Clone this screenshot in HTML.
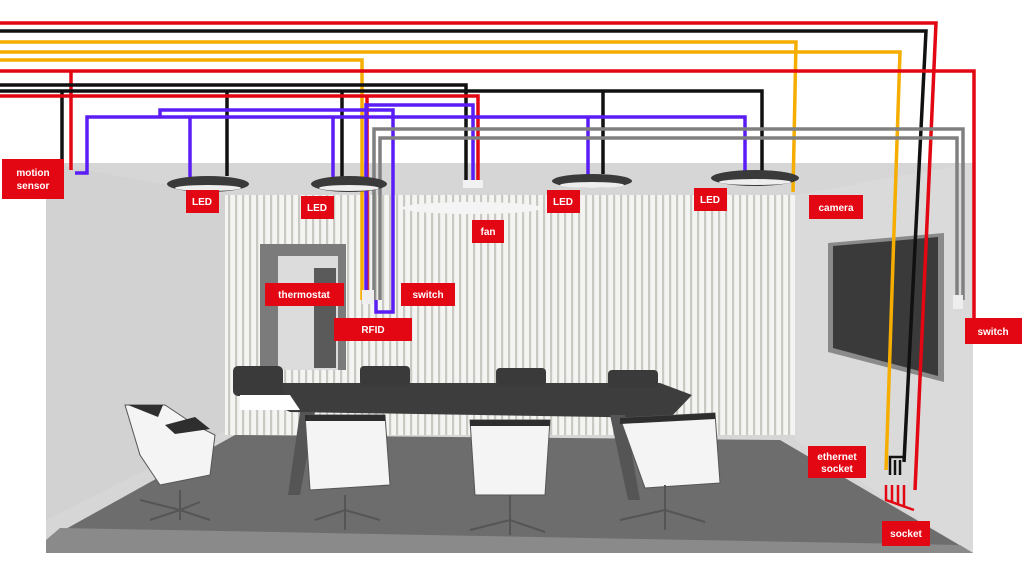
<!DOCTYPE html>
<html><head><style>
body{margin:0;background:#fff}
svg{display:block}
.l{fill:#e30613}
.t{fill:#fff;font-family:"Liberation Sans",sans-serif;font-weight:bold;font-size:10px;text-anchor:middle}
.w{fill:none;stroke-width:3.5;stroke-linejoin:miter}
</style></head><body>
<svg width="1024" height="576" viewBox="0 0 1024 576" xmlns="http://www.w3.org/2000/svg">
<defs>
<pattern id="sl" width="7" height="10" patternUnits="userSpaceOnUse">
<rect width="7" height="10" fill="#f4f4f2"/><rect x="4" width="2.2" height="10" fill="#c9c8c2"/>
</pattern>
</defs>
<rect x="46" y="163" width="927" height="390" fill="#d6d6d6"/>
<polygon points="46,163 225,195 225,430 46,520" fill="#d2d2d2"/>
<polygon points="973,163 795,195 795,440 973,553" fill="#dadada"/>
<rect x="225" y="195" width="570" height="240" fill="url(#sl)"/>
<rect x="260" y="244" width="86" height="126" fill="#7b7b7b"/>
<rect x="278" y="256" width="60" height="114" fill="#dcdcdc"/>
<rect x="314" y="268" width="22" height="100" fill="#5a5a5a"/>
<polygon points="46,540 235,435 780,440 973,553 46,553" fill="#6d6d6d"/>
<polygon points="46,540 60,528 960,545 973,553 46,553" fill="#8a8a8a"/>
<polygon points="828,243 944,233 944,382 828,352" fill="#8a8a8a"/>
<polygon points="833,246 938,237 938,376 833,348" fill="#3a3a3a"/>
<polygon points="280,383 660,383 692,395 670,418 290,412 262,398" fill="#3d3d3d"/>
<polygon points="300,412 315,412 300,495 288,495" fill="#555"/>
<polygon points="610,415 625,415 640,500 628,500" fill="#555"/>
<g fill="#3a3a3a">
<rect x="233" y="366" width="50" height="30" rx="5"/><rect x="360" y="366" width="50" height="20" rx="4"/>
<rect x="496" y="368" width="50" height="18" rx="4"/><rect x="608" y="370" width="50" height="18" rx="4"/>
</g>
<path d="M240 395 h50 l10 15 h-60z" fill="#fff"/>
<g fill="#f4f4f4" stroke="#555" stroke-width="1">
<path d="M125 405 l40 0 30 20 20 10 -5 40 -50 10 -20 -30z"/>
<path d="M305 415 h80 l5 70 -80 5z"/>
<path d="M470 420 h80 l-5 75 -70 0z"/>
<path d="M620 418 l95 -5 5 70 -75 5z"/>
</g>
<g fill="#2e2e2e">
<path d="M128 405 l35 0 -5 12 z"/><path d="M165 425 l30 -8 15 12 -35 5z"/>
<path d="M305 415 h80 v6 h-80z"/><path d="M470 420 h80 v6 h-80z"/><path d="M620 418 l95 -5 v6 l-95 5z"/>
</g>
<g stroke="#555" stroke-width="2" fill="none">
<path d="M140 500 l40 10 l20 -8 M180 490 v30 M150 520 l30 -10 l30 10"/>
<path d="M315 520 l30 -10 l35 10 M345 495 v35"/>
<path d="M470 530 l40 -10 l35 12 M510 495 v40"/>
<path d="M620 520 l45 -10 l40 12 M665 485 v45"/>
</g>
<g class="w">
<path stroke="#e30613" d="M0 23 H936 L915 490"/>
<path stroke="#111" d="M0 31 H926 L904 462"/>
<path stroke="#f5ad00" d="M0 42 H796 L793 192"/>
<path stroke="#f5ad00" d="M0 52 H900 L886 470"/>
<path stroke="#f5ad00" d="M0 60 H362 V300"/>
<path stroke="#e30613" d="M0 71 H974 V320 L966 320"/>
<path stroke="#e30613" d="M71 71 V170"/>
<path stroke="#111" d="M0 85 H466 V180"/>
<path stroke="#111" d="M0 91 H762 V172 M62 91 V183 M227 91 V176 M342 91 V178 M603 91 V174"/>
<path stroke="#e30613" d="M0 96 H478 V180 M367 96 V300"/>
<path stroke="#5b1df5" d="M75 173 H87 V117 H745 V172 M190 117 V178 M333 117 V178 M588 117 V175"/>
<path stroke="#5b1df5" d="M160 117 V110 H393 V312 H376 V300"/>
<path stroke="#5b1df5" d="M366 300 V105 H473 V180"/>
<path stroke="#808080" d="M374 300 V129 H963 V300"/>
<path stroke="#808080" d="M380 300 V138 H957 V300"/>
<path stroke="#111" stroke-width="2.5" d="M890 475 V457 H906 M895 475 V460 M900 475 V460"/>
<path stroke="#e30613" stroke-width="2.5" d="M886 485 V500 L914 510 M892 485 V502 M898 485 V504 M904 485 V506"/>
</g>
<g fill="#3a3a3a">
<ellipse cx="208" cy="184" rx="41" ry="8"/><ellipse cx="349" cy="184" rx="38" ry="8"/>
<ellipse cx="592" cy="181" rx="40" ry="7"/><ellipse cx="755" cy="178" rx="44" ry="8"/>
</g>
<g fill="#eee"><ellipse cx="208" cy="188" rx="33" ry="3"/><ellipse cx="349" cy="188" rx="30" ry="3"/>
<ellipse cx="592" cy="185" rx="32" ry="3"/><ellipse cx="755" cy="182" rx="36" ry="3"/></g>
<rect x="463" y="180" width="20" height="8" fill="#f2f2f2"/>
<ellipse cx="472" cy="208" rx="70" ry="6" fill="#f4f4f4"/>
<rect x="362" y="290" width="12" height="14" fill="#eee"/><rect x="953" y="295" width="10" height="14" fill="#eee"/>
<rect class="l" x="2" y="159" width="62" height="40"/><text class="t" x="33" y="176">motion</text><text class="t" x="33" y="189">sensor</text>
<rect class="l" x="186" y="190" width="33" height="23"/><text class="t" x="202" y="205">LED</text>
<rect class="l" x="301" y="196" width="33" height="23"/><text class="t" x="317" y="211">LED</text>
<rect class="l" x="472" y="220" width="32" height="23"/><text class="t" x="488" y="235">fan</text>
<rect class="l" x="547" y="190" width="33" height="23"/><text class="t" x="563" y="205">LED</text>
<rect class="l" x="694" y="188" width="33" height="23"/><text class="t" x="710" y="203">LED</text>
<rect class="l" x="809" y="195" width="54" height="24"/><text class="t" x="836" y="211">camera</text>
<rect class="l" x="265" y="283" width="79" height="23"/><text class="t" x="304" y="298">thermostat</text>
<rect class="l" x="401" y="283" width="54" height="23"/><text class="t" x="428" y="298">switch</text>
<rect class="l" x="334" y="318" width="78" height="23"/><text class="t" x="373" y="333">RFID</text>
<rect class="l" x="965" y="318" width="57" height="26"/><text class="t" x="993" y="335">switch</text>
<rect class="l" x="808" y="446" width="58" height="32"/><text class="t" x="837" y="460">ethernet</text><text class="t" x="837" y="472">socket</text>
<rect class="l" x="882" y="521" width="48" height="25"/><text class="t" x="906" y="537">socket</text>
</svg>
</body></html>
